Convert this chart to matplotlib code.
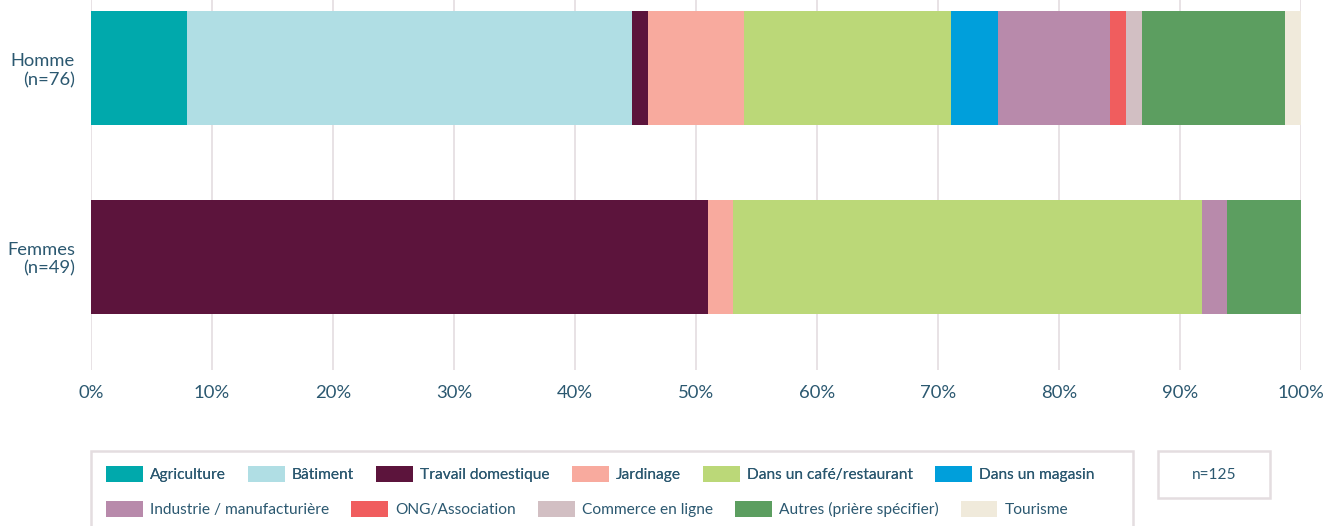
import matplotlib.pyplot as plt
import numpy as np
from matplotlib.patches import Rectangle

plt.rcParams['font.family'] = ['Lato', 'DejaVu Sans']

groups = ['Homme\n(n=76)', 'Femmes\n(n=49)']
group_n = [76, 49]
sectors = ['Agriculture', 'Bâtiment', 'Travail domestique', 'Jardinage',
           'Dans un café/restaurant', 'Dans un magasin',
           'Industrie / manufacturière', 'ONG/Association',
           'Commerce en ligne', 'Autres (prière spécifier)', 'Tourisme']
colors = ['#00a9ac', '#b0dee4', '#5c143c', '#f8aa9e', '#bbd878', '#009fdb',
          '#b88aab', '#f05d5e', '#d2bfc3', '#5c9e60', '#f0eadb']
# respondent counts per sector, one list per group
homme = [6, 28, 1, 6, 13, 3, 7, 1, 1, 9, 1]
femmes = [0, 0, 25, 1, 19, 0, 1, 0, 0, 3, 0]
total_n = 'n=125'
xticks = np.arange(0, 101, 10)

text_col = '#2b5870'
grid_col = '#e4dde0'

counts = np.array([homme, femmes], dtype=float)
shares = counts / np.array(group_n)[:, None] * 100

fig = plt.figure(figsize=(13.39, 5.26), dpi=100)
ax = fig.add_axes([91 / 1339, 1 - 370 / 526, 1210 / 1339, 370 / 526])

ypos = np.arange(len(groups))
left = np.zeros(len(groups))
bars = []
for i, name in enumerate(sectors):
    b = ax.barh(ypos, shares[:, i], left=left, height=0.603,
                color=colors[i], label=name, zorder=2)
    bars.append(b)
    left += shares[:, i]

ax.set_xlim(0, 100)
ax.set_ylim(1.6, -0.36)
ax.set_xticks(xticks)
ax.set_xticklabels([f'{t}%' for t in xticks])
ax.set_yticks(ypos)
ax.set_yticklabels(groups)
ax.tick_params(axis='x', length=0, pad=11, labelsize=13.3, labelcolor=text_col)
ax.tick_params(axis='y', length=0, pad=11.5, labelsize=13.2, labelcolor=text_col)
ax.grid(axis='x', color=grid_col, lw=1.2, zorder=0)
for s in ax.spines.values():
    s.set_visible(False)

# legend frame and the total-n box
fig.patches.append(Rectangle((91 / 1339, 1 - 560 / 526), 1042 / 1339, 109 / 526,
                             transform=fig.transFigure, fill=False,
                             ec='#e4dde0', lw=1.8))
fig.patches.append(Rectangle((1158 / 1339, 1 - 498 / 526), 112 / 1339, 47 / 526,
                             transform=fig.transFigure, fill=False,
                             ec='#e4dde0', lw=1.8))
fig.text(1214 / 1339, 1 - 475 / 526, total_n, ha='center', va='center',
         fontsize=11.2, color=text_col)

leg_kw = dict(frameon=False, fontsize=11.2, handlelength=2.35,
              handleheight=1.2, handletextpad=0.45, columnspacing=1.45,
              borderpad=0, borderaxespad=0, labelcolor=text_col,
              loc='center left')
row1 = fig.legend(bars[:6], sectors[:6], ncol=6,
                  bbox_to_anchor=(106 / 1339, 1 - 474 / 526), **leg_kw)
fig.add_artist(row1)
fig.legend(bars[6:], sectors[6:], ncol=5,
           bbox_to_anchor=(106 / 1339, 1 - 509 / 526), **leg_kw)

fig.savefig('out.png', dpi=100)
